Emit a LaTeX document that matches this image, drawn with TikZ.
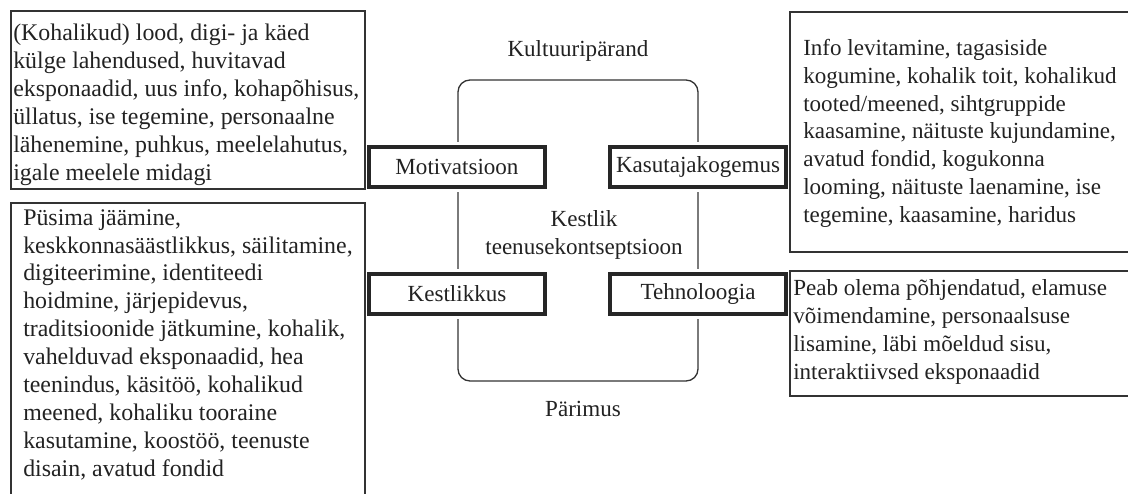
\documentclass[tikz,border=0pt]{standalone}
\usepackage{fontspec}
\setmainfont{Liberation Serif}
\usetikzlibrary{fit}
\definecolor{ink}{HTML}{222222}
\definecolor{edge}{HTML}{333333}

\begin{document}
\begin{tikzpicture}[x=0.75pt,y=-0.75pt,
  every node/.style={text=ink},
  txt/.style={font=\fontsize{17.3}{20.8}\selectfont},
  % multi-line nodes: the base anchor sits on the last line
  body/.style={txt, align=left, inner sep=0pt, anchor=base west},
  widebody/.style={body, font=\fontsize{17.9}{20.9}\selectfont},
  textbox/.style={draw=edge, line width=1.1pt, inner sep=0pt},
  tag/.style={txt, draw=black!85, line width=3pt, fill=white,
    minimum width=132pt, minimum height=30pt, inner sep=0pt,
    preaction={draw=white, line width=7.5pt}},
  frame/.style={draw=edge, line width=1pt, rounded corners=9pt, inner sep=0pt},
  caption/.style={txt, inner sep=0pt, anchor=base, align=center}]

\useasboundingbox (0,0) rectangle (1128,493);
\clip (0,0) rectangle (1128,493);

% central frame
\node[frame, fit={(458,80) (698,381)}] (core) {};

% four aspects sitting on the frame
\node[tag] (motiv) at (457,167) {Motivatsioon};
\node[tag] (kasut) at (698,167) {Kasutajakogemus};
\node[tag] (kestl) at (457,294) {Kestlikkus};
\node[tag] (tehno) at (698,294) {Tehnoloogia};

% description boxes
\node[textbox, fit={(11,11) (365,189)}] (motivbox) {};
\node[textbox, fit={(790,12) (1140,252)}] (kasutbox) {};
\node[textbox, fit={(11,203) (365,520)}] (kestlbox) {};
\node[textbox, fit={(790,271) (1140,396)}] (tehnobox) {};

% captions
\node[caption] (kultuur) at (578,56) {Kultuuripärand};
\node[caption] (keskus) at (584,254) {Kestlik\\teenusekontseptsioon};
\node[caption] (parimus) at (583,416) {Pärimus};

% box texts, placed by the baseline of their last line
\node[widebody] (motivtxt) at (13,180) {(Kohalikud) lood, digi- ja käed\\
külge lahendused, huvitavad\\
eksponaadid, uus info, kohapõhisus,\\
üllatus, ise tegemine, personaalne\\
lähenemine, puhkus, meelelahutus,\\
igale meelele midagi};

\node[body] (kasuttxt) at (803,222) {Info levitamine, tagasiside\\
kogumine, kohalik toit, kohalikud\\
tooted/meened, sihtgruppide\\
kaasamine, näituste kujundamine,\\
avatud fondid, kogukonna\\
looming, näituste laenamine, ise\\
tegemine, kaasamine, haridus};

\node[widebody] (kestltxt) at (23,476) {Püsima jäämine,\\
keskkonnasäästlikkus, säilitamine,\\
digiteerimine, identiteedi\\
hoidmine, järjepidevus,\\
traditsioonide jätkumine, kohalik,\\
vahelduvad eksponaadid, hea\\
teenindus, käsitöö, kohalikud\\
meened, kohaliku tooraine\\
kasutamine, koostöö, teenuste\\
disain, avatud fondid};

\node[body] (tehnotxt) at (793,379) {Peab olema põhjendatud, elamuse\\
võimendamine, personaalsuse\\
lisamine, läbi mõeldud sisu,\\
interaktiivsed eksponaadid};
\end{tikzpicture}
\end{document}
